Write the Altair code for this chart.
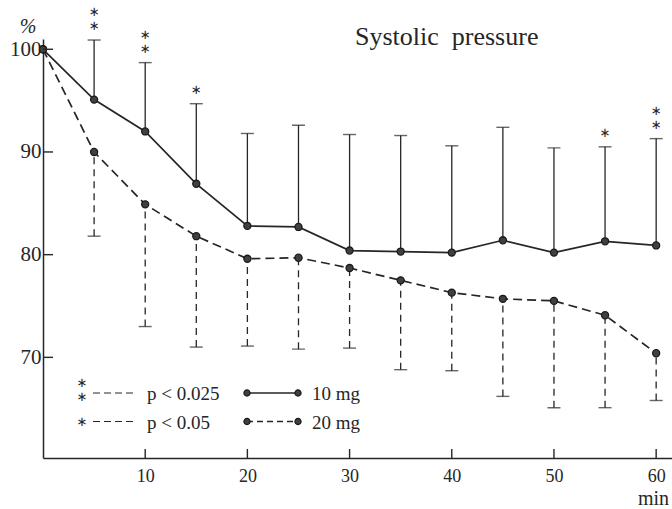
import altair as alt
import pandas as pd

# ---------------- data ----------------
times = [0, 5, 10, 15, 20, 25, 30, 35, 40, 45, 50, 55, 60]
mean_10mg = [100, 95.1, 92.0, 86.9, 82.8, 82.7, 80.4, 80.3, 80.2, 81.4, 80.2, 81.3, 80.9]
upper_10mg = [None, 100.9, 98.7, 94.7, 91.8, 92.6, 91.7, 91.6, 90.6, 92.4, 90.4, 90.5, 91.3]
mean_20mg = [100, 90.0, 84.9, 81.8, 79.6, 79.7, 78.7, 77.5, 76.3, 75.7, 75.5, 74.1, 70.4]
lower_20mg = [None, 81.8, 73.0, 71.0, 71.1, 70.8, 70.9, 68.8, 68.7, 66.2, 65.1, 65.1, 65.8]
signif_10mg = ["", "**", "**", "*", "", "", "", "", "", "", "", "*", "**"]

x_ticks = [10, 20, 30, 40, 50, 60]
y_ticks = [70, 80, 90, 100]

title_text = "Systolic\u2002pressure"
y_unit = "%"
x_unit = "min"
p_marks = ["**", "*"]
p_labels = ["p < 0.025", "p < 0.05"]
series_labels = ["10 mg", "20 mg"]

STAR = "\u2217"

# ---------------- tables ----------------
df = pd.DataFrame({"time": times, "m10": mean_10mg, "m20": mean_20mg})
err = pd.DataFrame({"time": times[1:], "m10": mean_10mg[1:], "up10": upper_10mg[1:],
                    "m20": mean_20mg[1:], "lo20": lower_20mg[1:]})
stars = pd.DataFrame([{"time": t, "up10": u, "level": k + 1}
                      for t, u, s in zip(times, upper_10mg, signif_10mg)
                      for k in range(len(s))])
xt = pd.DataFrame({"v": x_ticks})
yt = pd.DataFrame({"v": y_ticks})
one = pd.DataFrame({"a": [0]})

ink = "#262626"
serif = "Liberation Serif"
W, H = 629, 419

xscale = alt.Scale(domain=[0, 61.55], nice=False, zero=False)
yscale = alt.Scale(domain=[60.2, 101], nice=False, zero=False)

xaxis = alt.Axis(values=x_ticks, ticks=False, grid=False, title=None, format="d",
                 domainColor=ink, domainWidth=1.5, labelFont=serif, labelFontSize=18,
                 labelColor=ink, labelPadding=9)
yaxis = alt.Axis(values=y_ticks, ticks=False, grid=False, title=None, format="d",
                 domainColor=ink, domainWidth=1.5, labelFont=serif, labelFontSize=21,
                 labelColor=ink, labelPadding=2)

X = lambda f: alt.X(f, type="quantitative", scale=xscale, axis=xaxis)
Y = lambda f: alt.Y(f, type="quantitative", scale=yscale, axis=yaxis)

# main series lines
line10 = alt.Chart(df).mark_line(color=ink, strokeWidth=1.7).encode(
    x=X("time"), y=Y("m10"))
line20 = alt.Chart(df).mark_line(color=ink, strokeWidth=1.7, strokeDash=[9, 5]).encode(
    x=X("time"), y=Y("m20"))

# error bars
stem10 = alt.Chart(err).mark_rule(color=ink, strokeWidth=1.3).encode(
    x=X("time"), y=Y("m10"), y2="up10")
cap10 = alt.Chart(err).mark_tick(color=ink, orient="horizontal", size=13, thickness=1.4).encode(
    x=X("time"), y=Y("up10"))
stem20 = alt.Chart(err).mark_rule(color=ink, strokeWidth=1.3, strokeDash=[7, 5]).encode(
    x=X("time"), y=Y("lo20"), y2="m20")
cap20 = alt.Chart(err).mark_tick(color=ink, orient="horizontal", size=13, thickness=1.4).encode(
    x=X("time"), y=Y("lo20"))

# points
ptstyle = dict(filled=True, size=50, color="#404040", opacity=1, stroke="#1a1a1a", strokeWidth=1.3)
pts10 = alt.Chart(df).mark_point(**ptstyle).encode(x=X("time"), y=Y("m10"))
pts20 = alt.Chart(df).mark_point(**ptstyle).encode(x=X("time"), y=Y("m20"))

# significance asterisks (one text per asterisk, stacked above the cap)
starstyle = dict(text=STAR, font="DejaVu Sans", fontSize=13, color=ink, baseline="middle")
star1 = alt.Chart(stars).transform_filter("datum.level == 1").mark_text(
    dy=-14, **starstyle).encode(x=X("time"), y=Y("up10"))
star2 = alt.Chart(stars).transform_filter("datum.level == 2").mark_text(
    dy=-28, **starstyle).encode(x=X("time"), y=Y("up10"))

# inward ticks
xticks = alt.Chart(xt).mark_rule(color=ink, strokeWidth=1.4).encode(
    x=X("v"), y=alt.value(H), y2=alt.value(H - 9))
yticks = alt.Chart(yt).mark_rule(color=ink, strokeWidth=1.4).encode(
    y=Y("v"), x=alt.value(0), x2=alt.value(10))

# texts
title = alt.Chart(one).mark_text(text=title_text, font=serif, fontSize=26, color=ink,
                                 align="left", baseline="alphabetic").encode(
    x=alt.value(312), y=alt.value(6))
yunit = alt.Chart(one).mark_text(text=y_unit, font=serif, fontSize=20, color=ink,
                                 fontStyle="italic").encode(x=alt.value(-15), y=alt.value(-12))
xunit = alt.Chart(one).mark_text(text=x_unit, font=serif, fontSize=20, color=ink,
                                 align="right", baseline="alphabetic").encode(
    x=alt.value(W - 3), y=alt.value(H + 47))

# legend
leg = []
r1, r2 = 354, 382.5
star_rows = {0: [r1 - 10, r1 + 4], 1: [r2 + 0.5]}
for i, (r, pm, lab) in enumerate(zip((r1, r2), p_marks, p_labels)):
    for sy in star_rows[i][:len(pm)]:
        leg.append(alt.Chart(one).mark_text(**starstyle).encode(
            x=alt.value(39), y=alt.value(sy)))
    leg.append(alt.Chart(one).mark_rule(color=ink, strokeWidth=1.2, strokeDash=[7, 4]).encode(
        x=alt.value(50), x2=alt.value(92), y=alt.value(r)))
    leg.append(alt.Chart(one).mark_text(text=lab, font=serif, fontSize=19, color=ink,
                                        align="left", baseline="middle").encode(
        x=alt.value(104), y=alt.value(r + 1)))
for r, lab, dash in zip((r1, r2), series_labels, ([1, 0], [6, 4])):
    leg.append(alt.Chart(one).mark_rule(color=ink, strokeWidth=1.6, strokeDash=dash).encode(
        x=alt.value(204), x2=alt.value(255), y=alt.value(r)))
    for xx in (204, 255):
        leg.append(alt.Chart(one).mark_point(filled=True, size=38, color="#404040", opacity=1,
                                             stroke="#1a1a1a", strokeWidth=1.2).encode(
            x=alt.value(xx), y=alt.value(r)))
    leg.append(alt.Chart(one).mark_text(text=lab, font=serif, fontSize=19, color=ink,
                                        align="left", baseline="middle").encode(
        x=alt.value(269), y=alt.value(r + 1)))

chart = alt.layer(
    line10, line20, stem10, cap10, stem20, cap20, pts10, pts20, star1, star2,
    xticks, yticks, title, yunit, xunit, *leg
).properties(
    width=W, height=H,
    autosize=alt.AutoSizeParams(type="none"),
    padding={"left": 43, "top": 39, "right": 0, "bottom": 51},
    background="white"
).configure_view(stroke=None)

chart.save("out.html", embed_options={"renderer": "svg", "actions": False})
